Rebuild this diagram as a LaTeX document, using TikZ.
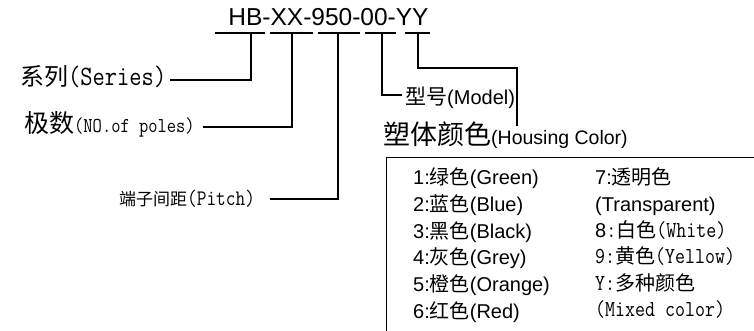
\documentclass[tikz,border=0pt]{standalone}
\usepackage{fontspec}
\setmainfont{Liberation Sans}
\newfontfamily\cjk{Noto Sans CJK SC}
\newcommand{\fs}[1]{\fontsize{#1}{#1}\selectfont}
\newcommand{\mt}[2]{\scalebox{1}[1.18]{\ttfamily\fs{#1}#2}}
\begin{document}
\begin{tikzpicture}[x=1pt,y=-1pt,
  lbl/.style={inner sep=0pt, anchor=base west},
  conn/.style={line width=1.3pt},
  boxline/.style={line width=1pt}]
\useasboundingbox (0,0) rectangle (754,331);
% title
\node[lbl, anchor=base] (title) at (328.5,26) {\fs{24.5}HB-XX-950-00-YY};
% underline segments
\coordinate (hbL) at (215,33); \coordinate (hbR) at (265,33);
\coordinate (xxL) at (270,33); \coordinate (xxR) at (313,33);
\coordinate (nnL) at (318,33); \coordinate (nnR) at (360,33);
\coordinate (zzL) at (365,33); \coordinate (zzR) at (396,33);
\coordinate (yyL) at (405,33); \coordinate (yyR) at (430,33);
\draw[conn] (hbL) -- (hbR);
\draw[conn] (xxL) -- (xxR);
\draw[conn] (nnL) -- (nnR);
\draw[conn] (zzL) -- (zzR);
\draw[conn] (yyL) -- (yyR);
\coordinate (u1) at (251,33);
\coordinate (u2) at (292,33);
\coordinate (u3) at (338,33);
\coordinate (u4) at (382,33);
\coordinate (u5) at (418,33);
% labels
\node[lbl] (series) at (20,86) {{\cjk\fs{24}系列}\mt{23.8}{(Series)}};
\node[lbl] (poles) at (24,133) {{\cjk\fs{25}极数}\mt{18}{(NO.of poles)}};
\node[lbl] (pitch) at (119,205) {{\cjk\fs{17}端子间距}\mt{18.8}{(Pitch)}};
\node[lbl] (model) at (405,105) {\fs{20}{\cjk\fs{21}型号}(Model)};
\node[lbl] (housing) at (383,145) {\fs{19.5}{\cjk\fs{27}塑体颜色}(Housing Color)};
% connector ends
\coordinate (seriesE) at (170,80);
\coordinate (polesE) at (203,127);
\coordinate (pitchE) at (270,199);
\coordinate (modelE) at (402,95);
\coordinate (hmid) at (517,68);
\coordinate (housingN) at (517,126);
\draw[conn] (u1) |- (seriesE);
\draw[conn] (u2) |- (polesE);
\draw[conn] (u3) |- (pitchE);
\draw[conn] (u4) |- (modelE);
\draw[conn] (u5) |- (hmid) -- (housingN);
% colour box
\coordinate (boxTR) at (754,158);
\coordinate (boxTL) at (386,158);
\coordinate (boxBL) at (386,331);
\draw[boxline] (boxTR) -- (boxTL) -- (boxBL);
% left column
\node[lbl] (c1) at (413,185) {\fs{20}1:{\cjk 绿色}(Green)};
\node[lbl] (c2) at (413,211.5) {\fs{20}2:{\cjk 蓝色}(Blue)};
\node[lbl] (c3) at (413,238) {\fs{20}3:{\cjk 黑色}(Black)};
\node[lbl] (c4) at (413,264.5) {\fs{20}4:{\cjk 灰色}(Grey)};
\node[lbl] (c5) at (413,291) {\fs{20}5:{\cjk 橙色}(Orange)};
\node[lbl] (c6) at (413,318) {\fs{20}6:{\cjk 红色}(Red)};
% right column
\node[lbl] (c7) at (595,185) {\fs{20}7:{\cjk 透明色}};
\node[lbl] (c7b) at (595,211.5) {\fs{20}(Transparent)};
\node[lbl] (c8) at (595,237) {\fs{20}8\mt{19.4}{:}{\cjk 白色}\mt{19.4}{(White)}};
\node[lbl] (c9) at (595,263) {\mt{19.4}{9:}{\cjk\fs{20}黄色}\mt{19.4}{(Yellow)}};
\node[lbl] (cy) at (595,290) {\mt{19.4}{Y:}{\cjk\fs{20}多种颜色}};
\node[lbl] (cyb) at (595,316) {\mt{19.4}{(Mixed color)}};
\end{tikzpicture}
\end{document}
